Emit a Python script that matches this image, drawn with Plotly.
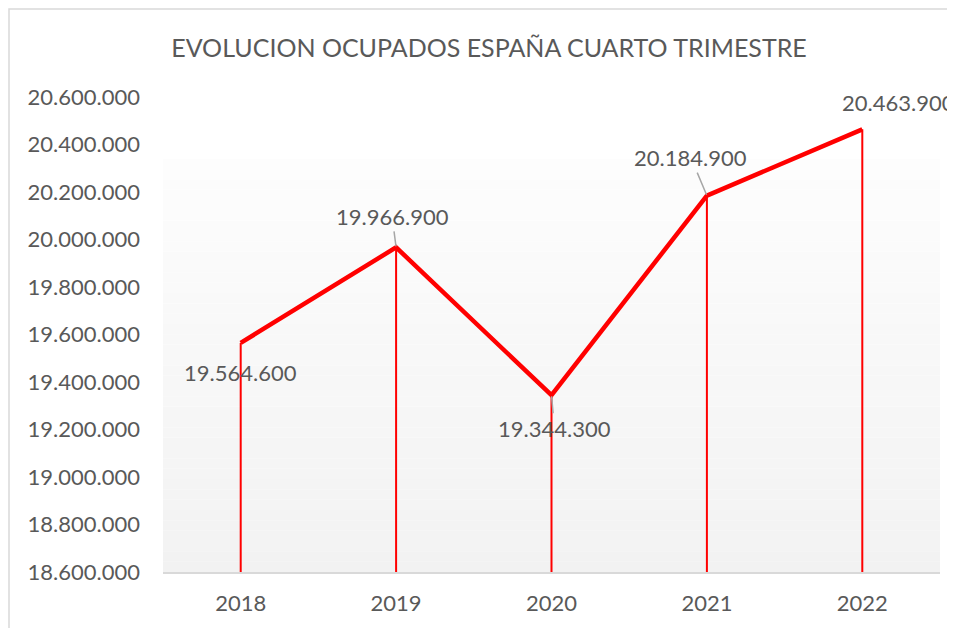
import plotly.graph_objects as go

# datos del gráfico
years = ["2018", "2019", "2020", "2021", "2022"]
ocupados = [19564600, 19966900, 19344300, 20184900, 20463900]
tick_vals = [18600000, 18800000, 19000000, 19200000, 19400000, 19600000,
             19800000, 20000000, 20200000, 20400000, 20600000]

# offsets de las etiquetas (px) respecto al punto, y si llevan linea guia
label_ax = [0, -4, 3, -16, 36]
label_ay = [30, -31, 33, -38, -27]
label_leader = [False, True, True, True, False]

y_min, y_max = 18600000, 20600000
gray_txt = "#595959"
font_fam = "Lato, 'Open Sans', sans-serif"


def fmt(v):
    return f"{v:,}".replace(",", ".")


fig = go.Figure()

# lineas de caida hasta el eje
drop_x, drop_y = [], []
for yr, v in zip(years, ocupados):
    drop_x += [yr, yr, None]
    drop_y += [y_min, v, None]
fig.add_trace(go.Scatter(x=drop_x, y=drop_y, mode="lines",
                         line=dict(color="#ff0000", width=2),
                         hoverinfo="skip", showlegend=False))

fig.add_trace(go.Scatter(x=years, y=ocupados, mode="lines",
                         line=dict(color="#ff0000", width=4.5),
                         showlegend=False, cliponaxis=False))

# fondo degradado del area de trazado
shapes = []
n = 40
top = 0.87
for i in range(n):
    f = i / (n - 1)
    c = int(round(242 + (253 - 242) * f))
    shapes.append(dict(type="rect", xref="x domain", yref="y domain",
                       x0=0, x1=1, y0=top * i / n, y1=top * (i + 1) / n,
                       fillcolor=f"rgb({c},{c},{c})", line_width=0, layer="below"))
# borde del grafico
shapes.append(dict(type="rect", xref="paper", yref="paper",
                   x0=-0.1982, x1=1.2, y0=-0.4, y1=1.1853,
                   line=dict(color="#d9d9d9", width=1.5), layer="below"))

# etiquetas de datos (x por indice de categoria)
annotations = []
for i, (v, ax, ay, lead) in enumerate(zip(ocupados, label_ax, label_ay, label_leader)):
    annotations.append(dict(x=i, y=v, xref="x", yref="y", text=fmt(v),
                            ax=ax, ay=ay,
                            showarrow=True, arrowhead=0, arrowwidth=1.5,
                            arrowcolor="#a6a6a6" if lead else "rgba(0,0,0,0)",
                            standoff=1,
                            font=dict(size=22, color=gray_txt, family=font_fam)))

fig.update_layout(
    width=947, height=620,
    margin=dict(l=155, r=15, t=89, b=56),
    paper_bgcolor="white", plot_bgcolor="white",
    title=dict(text="EVOLUCION OCUPADOS ESPAÑA CUARTO TRIMESTRE",
               x=481 / 947, xanchor="center", y=1 - 40 / 620, yanchor="middle",
               font=dict(size=25, color=gray_txt, family=font_fam)),
    shapes=shapes, annotations=annotations,
    font=dict(family=font_fam, color=gray_txt),
)
fig.update_xaxes(type="category", range=[-0.5, 4.5], showgrid=False,
                 showline=True, linecolor="#d9d9d9", linewidth=1.5,
                 ticks="", tickfont=dict(size=22, color=gray_txt),
                 ticklabelstandoff=11, zeroline=False)
fig.update_yaxes(range=[y_min, y_max], tickvals=tick_vals,
                 ticktext=[fmt(t) for t in tick_vals], showgrid=False,
                 showline=False, zeroline=False, ticks="",
                 tickfont=dict(size=22, color=gray_txt), ticklabelstandoff=22)

fig.write_html("out.html")
